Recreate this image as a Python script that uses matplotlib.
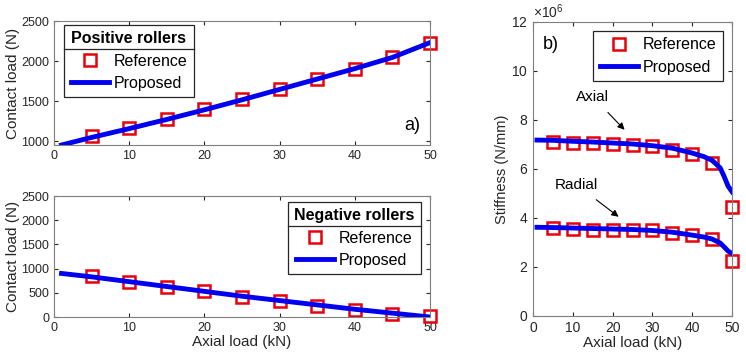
import numpy as np
import matplotlib.pyplot as plt
from matplotlib.lines import Line2D

plt.rcParams['font.family'] = ['Liberation Sans', 'DejaVu Sans']
plt.rcParams['mathtext.fontset'] = 'custom'
plt.rcParams['mathtext.rm'] = 'Liberation Sans'

# Datos
x_ref = [5, 10, 15, 20, 25, 30, 35, 40, 45, 50]
x_line = [1, 5, 10, 15, 20, 25, 30, 35, 40, 45, 50]

pos_ref = [1060, 1165, 1280, 1395, 1520, 1650, 1775, 1900, 2045, 2220]
pos_line = [950, 1045, 1155, 1270, 1390, 1515, 1645, 1775, 1905, 2045, 2230]

neg_ref = [840, 730, 625, 530, 420, 330, 235, 150, 65, 15]
neg_line = [900, 830, 730, 630, 530, 430, 340, 250, 160, 80, 0]

x_stiff = [1, 5, 10, 15, 20, 25, 30, 35, 40, 43, 45, 47, 48, 49, 50]
axial_ref = [7.11e6, 7.05e6, 7.05e6, 7.02e6, 6.98e6, 6.95e6, 6.78e6, 6.61e6, 6.23e6, 4.46e6]
axial_line = [7.18e6, 7.17e6, 7.13e6, 7.10e6, 7.06e6, 7.02e6, 6.95e6, 6.85e6, 6.65e6, 6.50e6,
              6.35e6, 6.05e6, 5.70e6, 5.30e6, 5.07e6]
radial_ref = [3.58e6, 3.54e6, 3.53e6, 3.51e6, 3.50e6, 3.49e6, 3.37e6, 3.31e6, 3.14e6, 2.24e6]
radial_line = [3.62e6, 3.61e6, 3.59e6, 3.57e6, 3.55e6, 3.53e6, 3.49e6, 3.42e6, 3.30e6, 3.22e6,
               3.14e6, 2.98e6, 2.82e6, 2.65e6, 2.55e6]

gris = '#262626'
ref_kw = dict(ls='none', marker='s', ms=8, mfc='white', mec='#e8000b', mew=1.8)
line_kw = dict(color='#0000f0', lw=3.5)


def estilo(ax, fs):
    ax.tick_params(direction='in', top=True, right=True, labelsize=fs, colors=gris, length=3)
    for s in ax.spines.values():
        s.set_color('#7f7f7f')
    ax.set_xlim(0, 50)
    ax.set_xticks(range(0, 51, 10))


def leyenda(ax, titulo, loc, anchor):
    handles = [Line2D([], [], **ref_kw), Line2D([], [], **line_kw)]
    leg = ax.legend(handles, ['Reference', 'Proposed'], title=titulo, loc=loc,
                    bbox_to_anchor=anchor, borderaxespad=0, fancybox=False,
                    edgecolor=gris, framealpha=1, fontsize=11.5, handlelength=2.4,
                    handletextpad=0.3, labelspacing=0.45, borderpad=0.4)
    if titulo:
        leg.get_title().set_fontweight('bold')
        leg.get_title().set_fontsize(11.5)
    leg.get_frame().set_linewidth(0.9)
    return leg


fig = plt.figure(figsize=(7.46, 3.64), dpi=100)
ax1 = fig.add_axes([0.0724, 0.6016, 0.504, 0.3407])
ax2 = fig.add_axes([0.0724, 0.1291, 0.504, 0.3324])
ax3 = fig.add_axes([0.7145, 0.1319, 0.2668, 0.8077])

# a) rodillos positivos
ax1.plot(x_ref, pos_ref, clip_on=False, **ref_kw)
ax1.plot(x_line, pos_line, **line_kw)
estilo(ax1, 9)
ax1.set_ylim(950, 2500)
ax1.set_yticks([1000, 1500, 2000, 2500])
ax1.set_ylabel('Contact load (N)', fontsize=11, color=gris, labelpad=1)
ax1.text(0.975, 0.12, 'a)', transform=ax1.transAxes, ha='right', fontsize=13, color='black')
leg1 = leyenda(ax1, 'Positive rollers', 'upper left', (0.027, 0.968))

# rodillos negativos
ax2.plot(x_ref, neg_ref, clip_on=False, **ref_kw)
ax2.plot(x_line, neg_line, **line_kw)
estilo(ax2, 9)
ax2.set_ylim(0, 2500)
ax2.set_yticks(range(0, 2501, 500))
ax2.set_ylabel('Contact load (N)', fontsize=11, color=gris, labelpad=1)
ax2.set_xlabel('Axial load (kN)', fontsize=11, color=gris, labelpad=1)
leg2 = leyenda(ax2, 'Negative rollers', 'upper right', (0.976, 0.950))

# b) rigidez
ax3.plot(x_ref, axial_ref, clip_on=False, **ref_kw)
ax3.plot(x_stiff, axial_line, **line_kw)
ax3.plot(x_ref, radial_ref, clip_on=False, **ref_kw)
ax3.plot(x_stiff, radial_line, **line_kw)
estilo(ax3, 10)
ax3.set_ylim(0, 12e6)
ax3.set_yticks(np.arange(0, 12.1e6, 2e6))
ax3.ticklabel_format(axis='y', style='sci', scilimits=(6, 6), useMathText=True)
ax3.yaxis.get_offset_text().set_fontsize(10)
ax3.yaxis.get_offset_text().set_color(gris)
ax3.set_ylabel('Stiffness (N/mm)', fontsize=10.5, color=gris, labelpad=2)
ax3.set_xlabel('Axial load (kN)', fontsize=11, color=gris, labelpad=1)
ax3.text(4.5, 11.1e6, 'b)', fontsize=13, ha='center', va='center')
ax3.annotate('Axial', xy=(23, 7.6e6), xytext=(15, 8.95e6), fontsize=11, ha='center', va='center',
             arrowprops=dict(arrowstyle='-|>', color='black', lw=0.8, shrinkA=6, shrinkB=0,
                             mutation_scale=10))
ax3.annotate('Radial', xy=(21.5, 4.05e6), xytext=(11, 5.35e6), fontsize=11, ha='center', va='center',
             arrowprops=dict(arrowstyle='-|>', color='black', lw=0.8, shrinkA=6, shrinkB=0,
                             mutation_scale=10))
leyenda(ax3, None, 'upper right', (0.955, 0.969))

# separador bajo el título de la leyenda
fig.canvas.draw()
for leg in (leg1, leg2):
    bb = leg.get_frame().get_window_extent()
    tb = leg.get_title().get_window_extent()
    yline = tb.y0 - 3
    fig.add_artist(Line2D([bb.x0, bb.x1], [yline, yline], transform=None,
                          color=gris, lw=0.9))

fig.savefig('out.png', dpi=100)
